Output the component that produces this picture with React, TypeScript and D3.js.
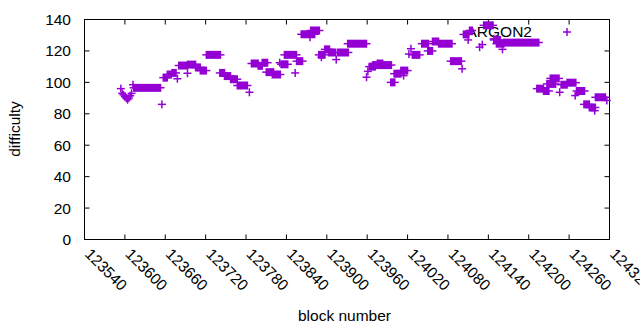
import React, { useRef, useEffect } from "react";
import * as d3 from "d3";

// runs of (roughly) constant difficulty: first block, last block, value
const runStart = [
  123594, 123596, 123598, 123600, 123602, 123604, 123606, 123608, 123610, 123612,
  123613, 123655, 123657, 123663, 123670, 123678, 123680, 123693, 123693, 123705,
  123712, 123721, 123741, 123748, 123757, 123767, 123785, 123788, 123798, 123804,
  123810, 123819, 123830, 123832, 123837, 123853, 123855, 123862, 123875, 123876,
  123888, 123892, 123897, 123903, 123914, 123916, 123931, 123959, 123961, 123963,
  123968, 123975, 123981, 123995, 124000, 124010, 124014, 124022, 124025, 124027,
  124041, 124050, 124057, 124066, 124084, 124101, 124103, 124110, 124112, 124127,
  124131, 124133, 124148, 124148, 124152, 124161, 124163, 124212, 124222, 124227,
  124232, 124246, 124248, 124257, 124269, 124271, 124282, 124290, 124298, 124299,
  124316,
];
const runEnd = [
  123594, 123596, 123598, 123600, 123602, 123604, 123606, 123608, 123610, 123612,
  123653, 123655, 123663, 123669, 123676, 123678, 123693, 123693, 123705, 123712,
  123721, 123742, 123748, 123757, 123767, 123782, 123785, 123798, 123804, 123812,
  123821, 123831, 123830, 123842, 123855, 123853, 123864, 123882, 123875, 123889,
  123897, 123892, 123904, 123913, 123914, 123932, 123959, 123959, 123961, 123972,
  123980, 123983, 123996, 124001, 124010, 124020, 124014, 124022, 124025, 124038,
  124051, 124057, 124066, 124086, 124100, 124101, 124111, 124110, 124116, 124127,
  124131, 124147, 124148, 124158, 124163, 124161, 124215, 124222, 124230, 124240,
  124245, 124246, 124257, 124270, 124269, 124283, 124290, 124299, 124298, 124314,
  124316,
];
const runDifficulty = [
  96, 93, 92, 91, 90, 89, 90, 91.5, 93, 98.5,
  96.5, 86, 103, 105, 106, 102.3, 110.7, 105.8, 111.3, 109.5,
  107.5, 117.5, 106, 104, 102, 98, 93.7, 112, 110.5, 112.5,
  106.5, 105, 112.5, 111.5, 117.5, 106, 113.5, 130.6, 128.7, 133,
  117.5, 116, 121, 119, 114.5, 119, 124.6, 103.3, 107, 110,
  111, 112, 111, 100, 105.5, 107.5, 104.3, 118, 121.4, 117.5,
  124.6, 120, 126, 124.6, 113.5, 108.6, 130.5, 127, 133, 122.4,
  124, 136.3, 127.7, 127, 124.6, 121, 125.3, 96, 94.5, 99,
  102.5, 93.7, 98.5, 99.8, 91.6, 94.5, 86, 84, 82, 90.5,
  88.5,
];

const seriesName = "ARGON2";
const yTicks = [0, 20, 40, 60, 80, 100, 120, 140];
const xTicks = d3.range(123540, 124321, 60);

const width = 640;
const height = 330;
const left = 84.5;
const right = 609.5;
const top = 19.5;
const bottom = 239.5;
const color = "#9400d3";
const font = "'Liberation Sans', Arial, sans-serif";
const fontSize = 15.5;
const arm = 4;   // half size of the "+" marker
const lw = 1.5;

const App: React.FC = () => {
  const svgRef = useRef<SVGSVGElement | null>(null);

  useEffect(() => {
    if (!svgRef.current) return;
    const svg = d3.select(svgRef.current);
    svg.selectAll("*").remove();

    const x = d3.scaleLinear().domain([123540, 124320]).range([left, right]);
    const y = d3.scaleLinear().domain([0, 140]).range([bottom, top]);

    // border box
    svg.append("rect")
      .attr("x", left).attr("y", top)
      .attr("width", right - left).attr("height", bottom - top)
      .attr("fill", "none").attr("stroke", "#000").attr("stroke-width", 1);

    // y ticks (left + mirrored on right)
    yTicks.forEach((t) => {
      svg.append("line").attr("x1", left).attr("x2", left + 5)
        .attr("y1", y(t)).attr("y2", y(t)).attr("stroke", "#000");
      svg.append("line").attr("x1", right).attr("x2", right - 5)
        .attr("y1", y(t)).attr("y2", y(t)).attr("stroke", "#000");
      svg.append("text")
        .attr("x", 71).attr("y", y(t) + 5.5)
        .attr("text-anchor", "end")
        .attr("font-family", font).attr("font-size", fontSize)
        .text(t);
    });

    // x ticks (bottom + mirrored on top), rotated labels
    xTicks.forEach((t) => {
      svg.append("line").attr("x1", x(t)).attr("x2", x(t))
        .attr("y1", bottom).attr("y2", bottom - 5).attr("stroke", "#000");
      svg.append("line").attr("x1", x(t)).attr("x2", x(t))
        .attr("y1", top).attr("y2", top + 5).attr("stroke", "#000");
      svg.append("text")
        .attr("transform", `translate(${x(t) - 0.5},255) rotate(45)`)
        .attr("text-anchor", "start")
        .attr("font-family", font).attr("font-size", fontSize)
        .text(t);
    });

    // axis titles
    svg.append("text")
      .attr("transform", "translate(20,129) rotate(-90)")
      .attr("text-anchor", "middle")
      .attr("font-family", font).attr("font-size", fontSize)
      .text("difficulty");
    svg.append("text")
      .attr("x", 344.5).attr("y", 321)
      .attr("text-anchor", "middle")
      .attr("font-family", font).attr("font-size", fontSize)
      .text("block number");

    // key
    svg.append("text")
      .attr("x", 532).attr("y", 37)
      .attr("text-anchor", "end")
      .attr("font-family", font).attr("font-size", fontSize)
      .text(seriesName);
    svg.append("path")
      .attr("d", `M${567 - arm},32H${567 + arm}M567,${32 - arm}V${32 + arm}`)
      .attr("stroke", color).attr("stroke-width", lw).attr("fill", "none");

    // points: each run is a "+" swept from first to last block
    const g = svg.append("g");
    runStart.forEach((s, i) => {
      const x1 = x(s);
      const x2 = x(runEnd[i]);
      const yy = y(runDifficulty[i]);
      g.append("rect")
        .attr("x", x1 - lw / 2).attr("y", yy - arm)
        .attr("width", x2 - x1 + lw).attr("height", arm * 2)
        .attr("fill", color);
      g.append("line")
        .attr("x1", x1 - arm).attr("x2", x2 + arm)
        .attr("y1", yy).attr("y2", yy)
        .attr("stroke", color).attr("stroke-width", lw);
    });
  }, []);

  return (
    <svg
      ref={svgRef}
      width={width}
      height={height}
      style={{ position: "absolute", left: 0, top: 0, background: "#fff", display: "block" }}
    />
  );
};

export default App;
